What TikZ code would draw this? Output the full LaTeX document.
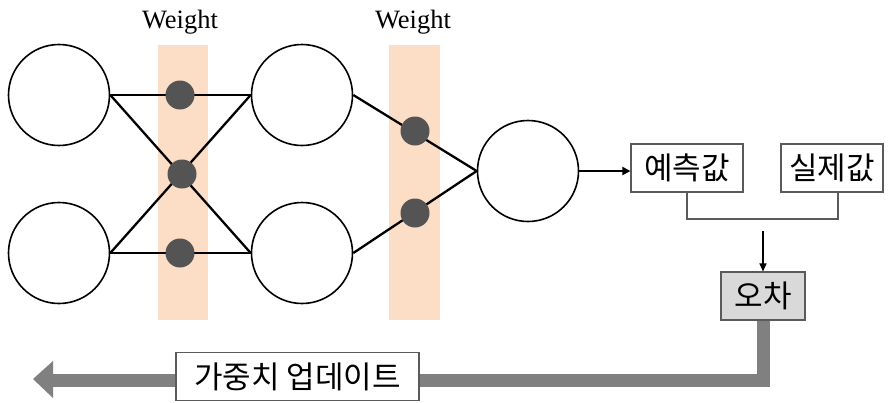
\documentclass[tikz,border=0pt]{standalone}
\usepackage{fontspec}
\setmainfont{Liberation Serif}
\newfontfamily\kr{Noto Sans CJK KR}
\usetikzlibrary{arrows.meta}
\definecolor{band}{RGB}{252,221,197}
\definecolor{dotc}{RGB}{84,84,84}
\definecolor{boxline}{RGB}{90,90,90}
\definecolor{errfill}{RGB}{217,217,217}
\definecolor{bar}{RGB}{128,128,128}
\tikzset{
  neuron/.style={circle,draw=black,line width=1.6pt,minimum size=101pt,inner sep=0pt,fill=white},
  wdot/.style={circle,fill=dotc,minimum size=29pt,inner sep=0pt},
  link/.style={line width=2.3pt,black},
  txtbox/.style={draw=boxline,line width=1.1pt,fill=white,inner sep=0pt,font=\kr\fontsize{31}{33}\selectfont},
  wlabel/.style={font=\fontsize{26.5}{28}\selectfont,inner sep=0pt},
  arr/.style={line width=2pt,-{Triangle[length=8pt,width=8pt]}}
}
\begin{document}
\begin{tikzpicture}[x=1pt,y=-1pt]
\useasboundingbox (0,0) rectangle (894,402);
% bands
\fill[band] (158,45) rectangle (208,320);
\fill[band] (389,45) rectangle (440,320);
\node[wlabel] (w1) at (180,22) {Weight};
\node[wlabel] (w2) at (413,22) {Weight};
% neurons
\node[neuron] (i1) at (59,95) {};
\node[neuron] (i2) at (59,253) {};
\node[neuron] (h1) at (302,95) {};
\node[neuron] (h2) at (302,253) {};
\node[neuron] (o) at (528,171) {};
% links
\draw[link] (i1.east) -- (h1.west);
\draw[link] (i1.east) -- (h2.west);
\draw[link] (i2.east) -- (h1.west);
\draw[link] (i2.east) -- (h2.west);
\draw[link] (h1.east) -- (o.west);
\draw[link] (h2.east) -- (o.west);
% weight dots
\node[wdot] (d1) at (180,95) {};
\node[wdot] (d2) at (182,174) {};
\node[wdot] (d3) at (180,253) {};
\node[wdot] (d4) at (415,131) {};
\node[wdot] (d5) at (415,213) {};
% boxes
\node[txtbox,minimum width=112pt,minimum height=48pt] (pred) at (687,168) {예측값};
\node[txtbox,minimum width=102pt,minimum height=48pt] (real) at (832,168) {실제값};
\node[txtbox,fill=errfill,minimum width=84pt,minimum height=48pt] (err) at (763,296) {오차};
\draw[arr] (o.east) -- (o.east -| pred.west);
\coordinate (rb) at (838,192);
\draw[line width=1.1pt,boxline] (pred.south) |- (760,219) -| (rb);
\coordinate (as) at (763,231);
\draw[line width=1.1pt,-{Triangle[length=8pt,width=7pt]}] (as) -- (err.north);
% thick update arrow
\coordinate (bend) at (763,380);
\coordinate (tipback) at (52,380);
\draw[bar,line width=13pt] (err.south) -- (bend) -- (tipback);
\fill[bar] (33,379) -- (53,361) -- (53,398) -- cycle;
\node[txtbox,minimum width=243pt,minimum height=48pt] (upd) at (297.5,376.5) {가중치 업데이트};
\end{tikzpicture}
\end{document}
